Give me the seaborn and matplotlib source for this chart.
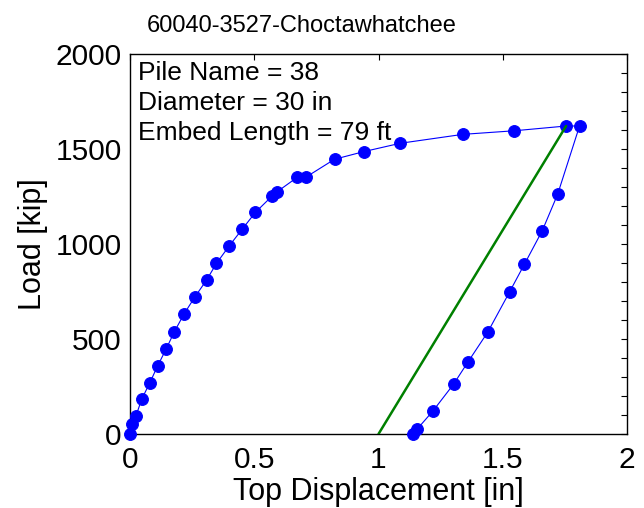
import matplotlib
matplotlib.use("Agg")
import matplotlib.pyplot as plt
from matplotlib.ticker import MultipleLocator
import seaborn as sns
import pandas as pd

# Load test record: loading branch followed by the unloading branch
displacement_in = [0.000, 0.007, 0.024, 0.047, 0.080, 0.111, 0.145, 0.178, 0.218,
                   0.262, 0.308, 0.348, 0.398, 0.451, 0.505, 0.573, 0.592, 0.673,
                   0.707, 0.823, 0.940, 1.087, 1.339, 1.547, 1.755, 1.809,
                   1.721, 1.659, 1.587, 1.528, 1.440, 1.360, 1.302, 1.219, 1.155, 1.139]
load_kip = [0, 51, 95, 183, 270, 358, 446, 537, 633,
            723, 810, 898, 988, 1077, 1167, 1254, 1275, 1351,
            1351, 1446, 1486, 1530, 1577, 1596, 1621, 1621,
            1262, 1070, 893, 749, 537, 379, 262, 121, 25, 0]

# Elastic offset line
offset_disp_in = [1.000, 1.755]
offset_load_kip = [0, 1621]

title = "60040-3527-Choctawhatchee"
info_lines = ["Pile Name = 38", "Diameter = 30 in", "Embed Length = 79 ft"]
x_ticks = [0, 0.5, 1, 1.5, 2]
x_tick_labels = ["0", "0.5", "1", "1.5", "2"]

sns.set_style("white")
plt.rcParams["font.family"] = ["Liberation Sans", "DejaVu Sans"]
plt.rcParams["text.color"] = "black"
plt.rcParams["axes.labelcolor"] = "black"
plt.rcParams["xtick.color"] = "black"
plt.rcParams["ytick.color"] = "black"

test_df = pd.DataFrame({"disp": displacement_in, "load": load_kip})
offset_df = pd.DataFrame({"disp": offset_disp_in, "load": offset_load_kip})

fig = plt.figure(figsize=(6.44, 5.08), dpi=100)
ax = fig.add_axes([130 / 644, 1 - 434 / 508, (627 - 130) / 644, (434 - 54) / 508])

sns.lineplot(data=test_df, x="disp", y="load", sort=False, estimator=None,
             color="#0000ff", linewidth=0.8, marker="o", markersize=8.5,
             markeredgecolor="#0000ff", clip_on=False, zorder=3, ax=ax)
sns.lineplot(data=offset_df, x="disp", y="load", sort=False, estimator=None,
             color="#008000", linewidth=1.8, zorder=4, ax=ax)

ax.set_xlim(0, 2)
ax.set_ylim(0, 2000)
ax.set_xticks(x_ticks)
ax.set_xticklabels(x_tick_labels)
ax.yaxis.set_major_locator(MultipleLocator(500))
ax.yaxis.set_minor_locator(MultipleLocator(100))
ax.tick_params(which="both", direction="in", top=True, right=True,
               length=4, width=0.8, labelsize=21.5)
ax.tick_params(axis="x", pad=9)
ax.tick_params(axis="y", pad=6)
for s in ax.spines.values():
    s.set_linewidth(1.0)
    s.set_color("black")

ax.set_xlabel("Top Displacement [in]", fontsize=22, labelpad=2)
ax.set_ylabel("Load [kip]", fontsize=22, labelpad=5)
fig.text(302 / 644, 1 - 32 / 508, title, fontsize=17, ha="center", va="baseline")

for i, line in enumerate(info_lines):
    ax.text(0.017, 0.981 - i * 0.079, line, transform=ax.transAxes,
            fontsize=19, ha="left", va="top")

fig.savefig("out.png", dpi=100)
